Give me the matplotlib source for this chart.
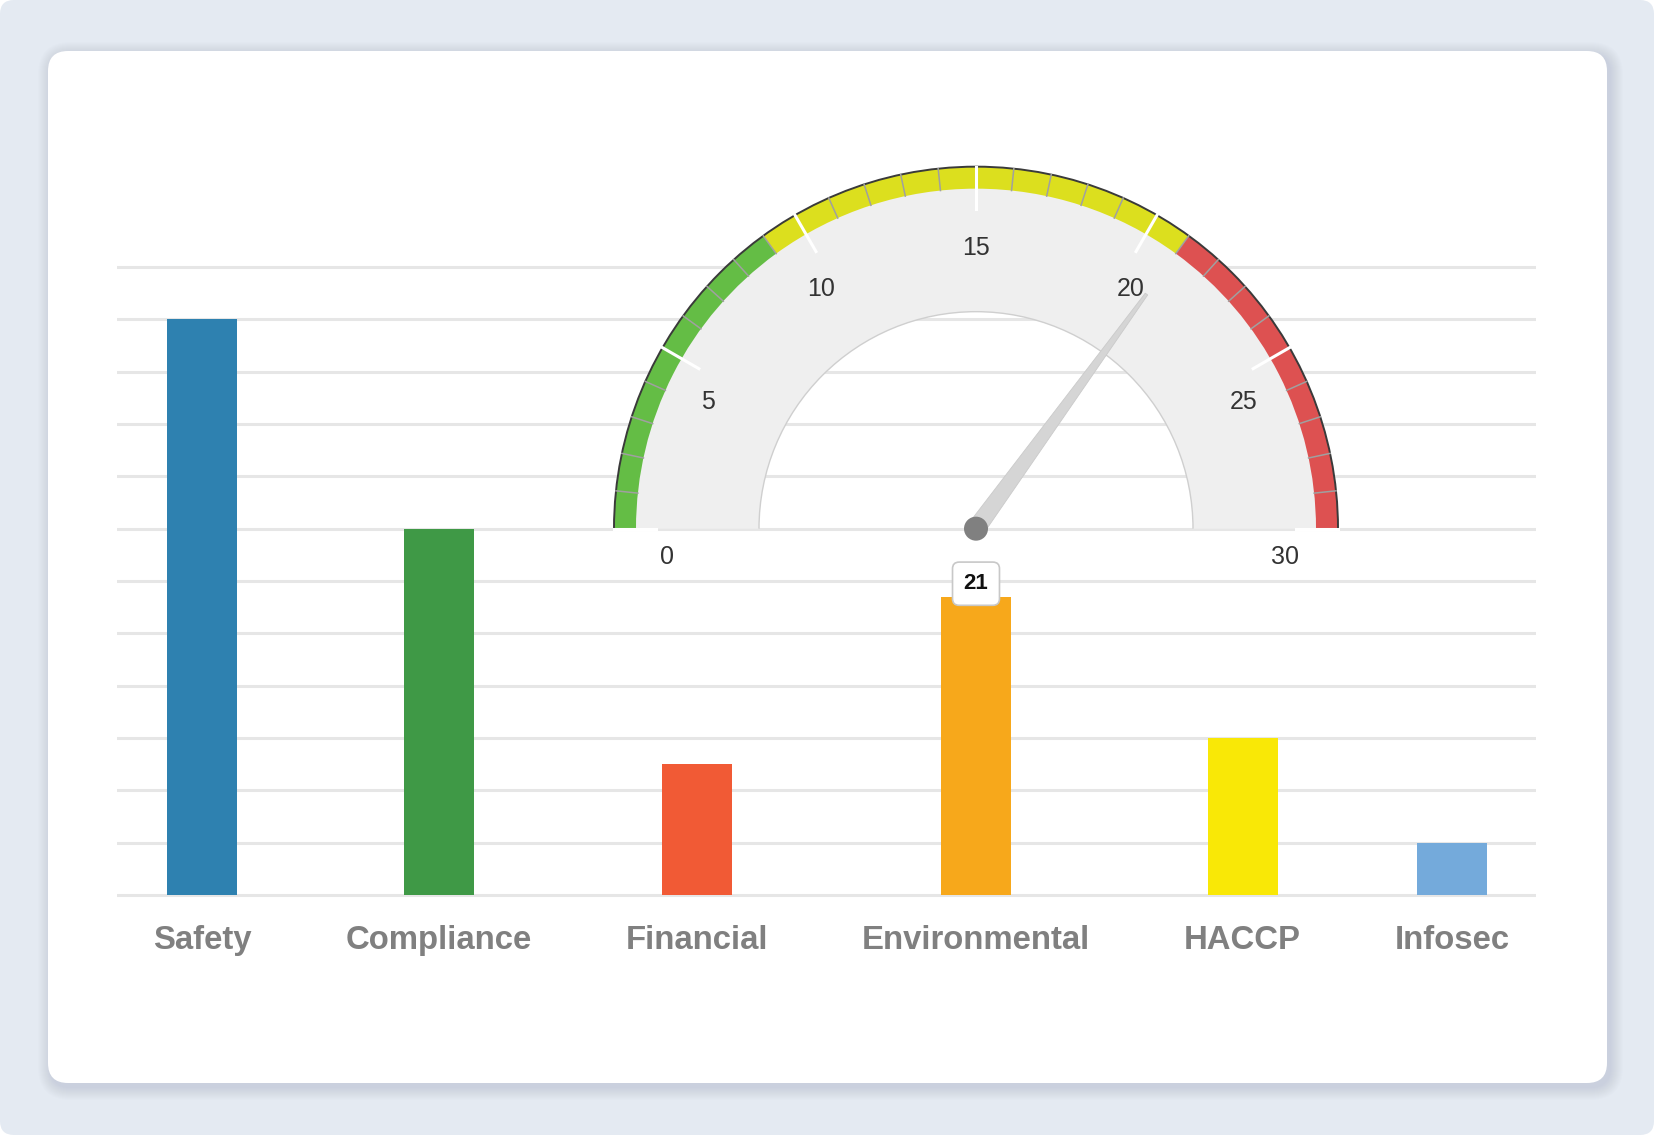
import matplotlib
matplotlib.use("Agg")
import matplotlib.pyplot as plt
from matplotlib.patches import FancyBboxPatch, Wedge, Polygon, Circle, Arc
from matplotlib.transforms import offset_copy
import numpy as np

# bar data
categories = ["Safety", "Compliance", "Financial", "Environmental", "HACCP", "Infosec"]
values = [11, 7, 2.5, 5.7, 3, 1]
bar_colors = ["#2e81b0", "#3f9946", "#f15a35", "#f7a81b", "#f9e806", "#74aadb"]

# gauge data
gauge_value = 21
gauge_min = 0
gauge_max = 30
band_edges = [0, 9, 21, 30]
band_colors = ["#64bd45", "#dcdf1e", "#dd5151"]
gauge_labels = [0, 5, 10, 15, 20, 25, 30]

W, H = 1654, 1135
fig = plt.figure(figsize=(W / 100, H / 100), dpi=100)
fig.patch.set_facecolor("white")

# background and card (pixel space, y up)
bg = fig.add_axes([0, 0, 1, 1])
bg.set_xlim(0, W)
bg.set_ylim(0, H)
bg.axis("off")
bg.set_zorder(0)
bg.add_patch(FancyBboxPatch((0, 0), W, H, boxstyle="round,pad=0,rounding_size=14",
                            fc="#e4eaf2", ec="none"))
for i in range(1, 14):
    bg.add_patch(FancyBboxPatch((48 - i + 3, 52 - i - 4), 1559 + 2 * i, 1032 + 2 * i,
                                boxstyle="round,pad=0,rounding_size=%d" % (20 + i),
                                fc="#7a8aa5", ec="none", alpha=0.014))
bg.add_patch(FancyBboxPatch((48, 52), 1559, 1032, boxstyle="round,pad=0,rounding_size=20",
                            fc="white", ec="none"))

# bar chart axes
gx0, gx1 = 117, 1536      # gridline extent
gy0, gy1 = 895, 267       # pixel rows of 0 and 12
ymax = 12
unit = (gy0 - gy1) / ymax
m = 0.2
ax = fig.add_axes([gx0 / W, (H - gy0 - m * unit) / H, (gx1 - gx0) / W, (gy0 - gy1 + 2 * m * unit) / H])
ax.set_zorder(1)
ax.set_xlim(gx0, gx1)
ax.set_ylim(-m, ymax + m)
ax.patch.set_alpha(0)
for s in ax.spines.values():
    s.set_visible(False)
ax.set_yticks(range(ymax + 1))
ax.set_xticks([])
ax.tick_params(length=0, labelleft=False, labelbottom=False)
ax.yaxis.grid(True, color="#e6e6e6", lw=2.2, solid_capstyle="round")
ax.set_axisbelow(True)

label_font = dict(family="Liberation Sans", weight="bold", size=23.7, color="#808080")

# category positions: labels spaced with equal gaps
rend = fig.canvas.get_renderer()
widths = []
for c in categories:
    t = fig.text(0, 0, c, **label_font)
    widths.append(t.get_window_extent(rend).width)
    t.remove()
span_l, span_r = 153, 1510
gap = (span_r - span_l - sum(widths)) / (len(categories) - 1)
xs = []
cur = span_l
for w in widths:
    xs.append(cur + w / 2)
    cur += w + gap

ax.bar(xs, values, width=70, color=bar_colors, zorder=2)

lab_tr = offset_copy(ax.transData, fig=fig, y=-54, units="dots")
for x, c in zip(xs, categories):
    ax.text(x, 0, c, transform=lab_tr, ha="center", va="baseline", **label_font)

ax.annotate(str(gauge_value), (xs[3], values[3]), xytext=(0, 13), textcoords="offset pixels",
            ha="center", va="center", fontsize=16, fontweight="bold", color="#111111",
            family="Liberation Sans", zorder=5,
            bbox=dict(boxstyle="round,pad=0.5,rounding_size=0.3", fc="white", ec="#c8c8c8", lw=1.2))

# gauge, centred on the Environmental bar at the 7 gridline
g = fig.add_axes([0, 0, 1, 1])
g.set_xlim(0, W)
g.set_ylim(0, H)
g.axis("off")
g.set_zorder(2)
cx, cy = ax.transData.transform((xs[3], 7))


def ang(v):
    return np.radians(180 - (v - gauge_min) / (gauge_max - gauge_min) * 180)


def pt(v, r):
    a = ang(v)
    return cx + r * np.cos(a), cy + r * np.sin(a)


r_out, r_band, r_in = 362, 340, 217
g.add_patch(Wedge((cx, cy), r_out, 0, 180, width=r_out - r_in, fc="#efefef", ec="none"))
g.add_patch(Arc((cx, cy), 2 * r_in, 2 * r_in, theta1=0, theta2=180, color="#cfcfcf", lw=1))
for i in range(len(band_colors)):
    g.add_patch(Wedge((cx, cy), r_out, np.degrees(ang(band_edges[i + 1])), np.degrees(ang(band_edges[i])),
                      width=r_out - r_band, fc=band_colors[i], ec="none"))
for v in range(gauge_min + 1, gauge_max):
    if v % 5:
        p1, p2 = pt(v, r_band), pt(v, r_out)
        g.plot([p1[0], p2[0]], [p1[1], p2[1]], color="#a0a0a0", lw=1.1)
for v in gauge_labels:
    p1, p2 = pt(v, 320), pt(v, r_out)
    g.plot([p1[0], p2[0]], [p1[1], p2[1]], color="white", lw=2.2)
g.add_patch(Arc((cx, cy), 2 * r_out, 2 * r_out, theta1=0, theta2=180, color="#3a3a3a", lw=1.4))

for v in gauge_labels:
    lx, ly = pt(v, 309)
    g.text(lx, ly - 28, str(v), ha="center", va="center", fontsize=18, color="#333333",
           family="Liberation Sans")

# needle
a = ang(gauge_value)
d = np.array([np.cos(a), np.sin(a)])
n = np.array([-d[1], d[0]])
c0 = np.array([cx, cy])
tip = c0 + d * 290
g.add_patch(Polygon([c0 + n * 9, tip + n * 1.5, tip - n * 1.5, c0 - n * 9],
                    closed=True, fc="#d5d5d5", ec="#cacaca", lw=0.6))
g.add_patch(Circle((cx, cy), 12, fc="#808080", ec="none"))

fig.savefig("out.png", dpi=100, facecolor=fig.get_facecolor())
